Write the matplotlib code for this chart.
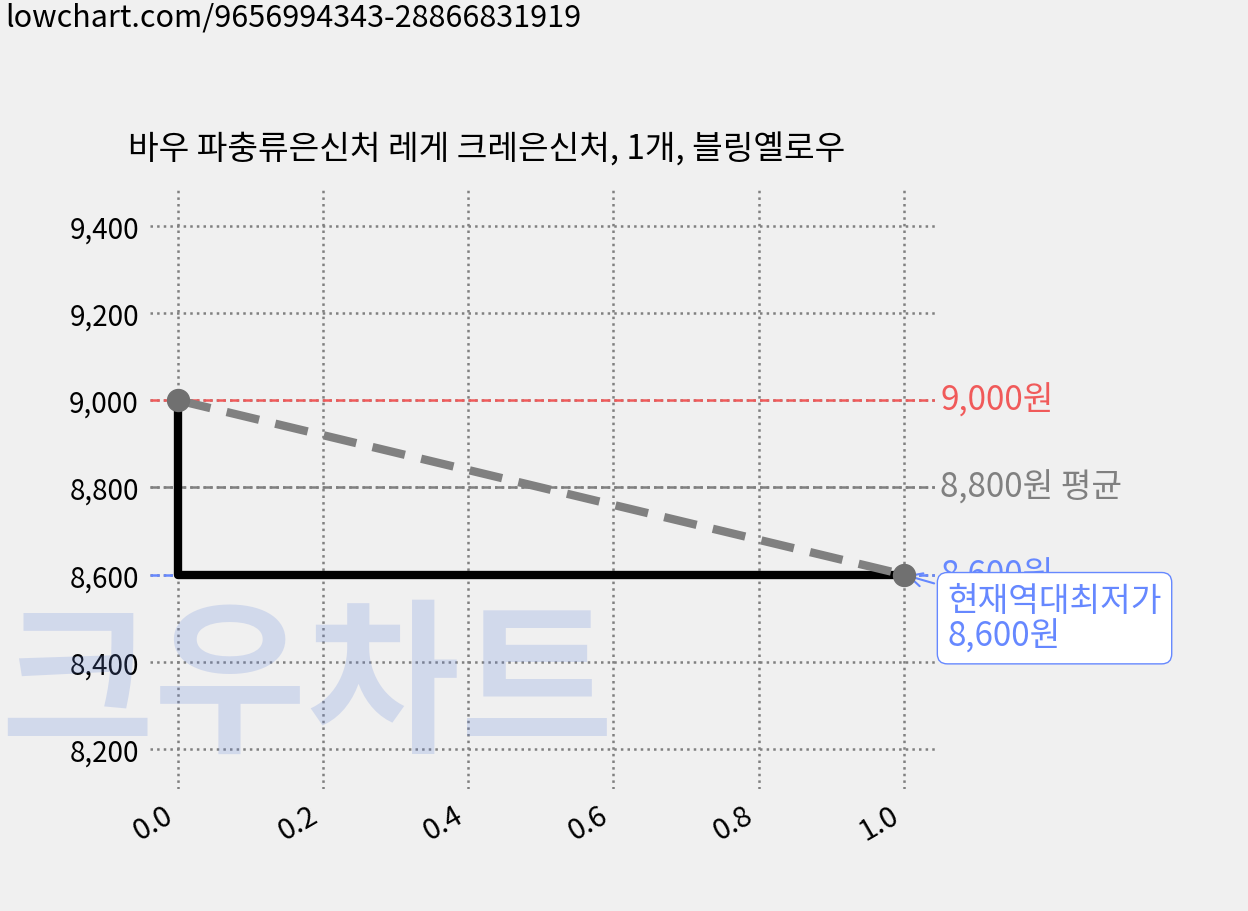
import matplotlib
matplotlib.use("Agg")
import matplotlib.pyplot as plt

plt.rcParams['font.family'] = ['Noto Sans CJK KR', 'DejaVu Sans']

title = "바우 파충류은신처 레게 크레은신처, 1개, 블링옐로우"
xs = [0.0, 1.0]
prices = [9000, 8600]
max_price = 9000
avg_price = 8800
min_price = 8600
yticks = [8200, 8400, 8600, 8800, 9000, 9200, 9400]
xticks = [0.0, 0.2, 0.4, 0.6, 0.8, 1.0]

fig = plt.figure(figsize=(12.48, 9.12), dpi=100, facecolor='#f0f0f0')
ax = fig.add_axes([150/1248, 1-790/912, 785/1248, 600/912])
ax.set_facecolor('#f0f0f0')
for s in ax.spines.values():
    s.set_visible(False)

ax.grid(True, linestyle=':', color='#808080', linewidth=1.8)
ax.set_axisbelow(True)

ax.axhline(max_price, color='#f05a5a', linestyle='--', linewidth=1.8)
ax.axhline(avg_price, color='#808080', linestyle='--', linewidth=1.8)
ax.axhline(min_price, color='#6688ff', linestyle='--', linewidth=1.8)

ax.plot(xs, prices, drawstyle='steps-pre', color='black', linewidth=6)
ax.plot(xs, prices, color='#808080', linestyle='--', linewidth=6, dashes=(4, 2))
ax.scatter(xs, prices, s=250, color='#707070', zorder=5)

ax.set_xlim(-0.0386, 1.043)
ax.set_ylim(8108, 9485)
ax.set_xticks(xticks)
ax.set_xticklabels([f"{v:.1f}" for v in xticks], rotation=30, ha='right', fontsize=21)
ax.set_yticks(yticks)
ax.set_yticklabels([f"{v:,}" for v in yticks], fontsize=20)
ax.tick_params(length=0, pad=8)

ax.text(1.05, max_price, f"{max_price:,}원", color='#f05a5a', fontsize=24, va='center')
ax.text(1.05, avg_price, f"{avg_price:,}원 평균", color='#808080', fontsize=24, va='center')
ax.text(1.05, min_price, f"{min_price:,}원", color='#6688ff', fontsize=24, va='center')
ax.annotate(f"현재역대최저가\n{min_price:,}원", xy=(1.0, min_price), xytext=(1.06, 8500),
            fontsize=24, color='#6688ff', va='center', linespacing=1.05,
            bbox=dict(boxstyle='round,pad=0.3', fc='white', ec='#6688ff'),
            arrowprops=dict(arrowstyle='->', color='#6688ff', lw=1.5))

fig.text(5/1248, 1-18/912, "lowchart.com/9656994343-28866831919", fontsize=22, va='center')
fig.text(128/1248, 1-150/912, title, fontsize=24, va='center')
fig.text(0/1248, 1-690/912, "크우차트", fontsize=120, fontweight='bold',
         color='#6688dd', alpha=0.22, va='center')

fig.savefig("out.png", dpi=100, facecolor=fig.get_facecolor())
